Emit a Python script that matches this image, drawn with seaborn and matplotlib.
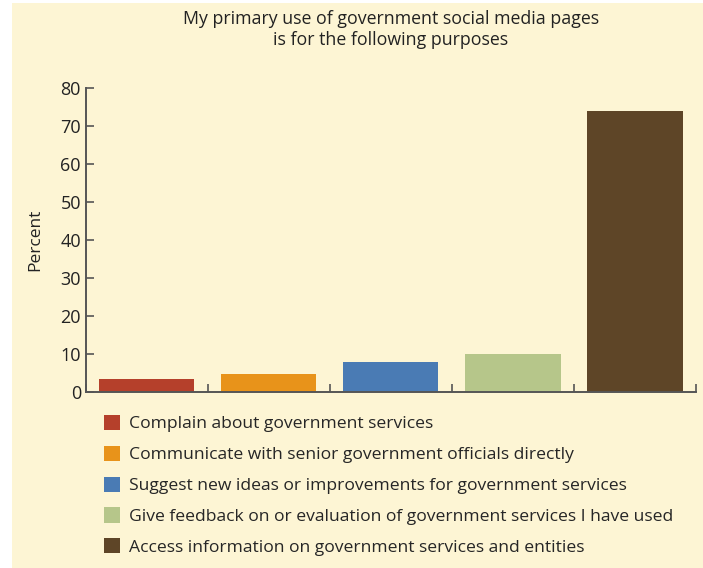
import pandas as pd
import seaborn as sns
import matplotlib
matplotlib.use('Agg')
import matplotlib.pyplot as plt
from matplotlib.patches import Rectangle

# values
purposes = [
    'Complain about government services',
    'Communicate with senior government officials directly',
    'Suggest new ideas or improvements for government services',
    'Give feedback on or evaluation of government services I have used',
    'Access information on government services and entities',
]
percent = [3.5, 4.8, 8.0, 10.0, 74.0]
colors = ['#B5402B', '#E8931A', '#4A7BB4', '#B6C68A', '#5E4527']

bg = '#FDF5D4'
sns.set_style('ticks')
plt.rcParams['font.family'] = ['Open Sans', 'DejaVu Sans']

data = pd.DataFrame({'purpose': purposes, 'percent': percent})

fig = plt.figure(figsize=(7.03, 5.68), dpi=100, facecolor='white')
# cream panel, with a thin white margin on the left and top only
fig.patches.append(Rectangle((0.017, -0.01), 1.0, 1.005, transform=fig.transFigure,
                             facecolor=bg, edgecolor='none', zorder=-10))

ax = fig.add_axes([0.122, 0.31, 0.868, 0.535])
ax.set_facecolor(bg)

sns.barplot(data=data, x='purpose', y='percent', hue='purpose',
            palette=colors, dodge=False, width=0.78, saturation=1,
            linewidth=0, edgecolor='none', ax=ax, legend=True)

ax.set_ylim(0, 80)
ax.set_xlim(-0.5, 4.5)
ax.set_yticks(range(0, 81, 10))
ax.set_xticks([-0.5, 0.5, 1.5, 2.5, 3.5, 4.5])
ax.set_xticklabels([])
ax.set_xlabel('')
ax.set_ylabel('Percent', fontsize=12.5, labelpad=12, color='#222222')
ax.tick_params(axis='both', direction='in', length=6, width=1.2,
               color='#555555', labelsize=13, labelcolor='#222222')
for side in ['top', 'right']:
    ax.spines[side].set_visible(False)
for side in ['left', 'bottom']:
    ax.spines[side].set_color('#555555')
    ax.spines[side].set_linewidth(1.4)

fig.suptitle('My primary use of government social media pages\nis for the following purposes',
             x=0.556, y=0.983, fontsize=12.8, color='#222222', linespacing=1.25)

handles, labels = ax.get_legend_handles_labels()
ax.get_legend().remove()
fig.legend(handles, labels, loc='upper left', bbox_to_anchor=(0.1375, 0.282),
           frameon=False, fontsize=12.6, handlelength=0.95, handleheight=0.95,
           handletextpad=0.5, labelspacing=0.76, borderaxespad=0)

fig.savefig('out.png', dpi=100, facecolor='white')
